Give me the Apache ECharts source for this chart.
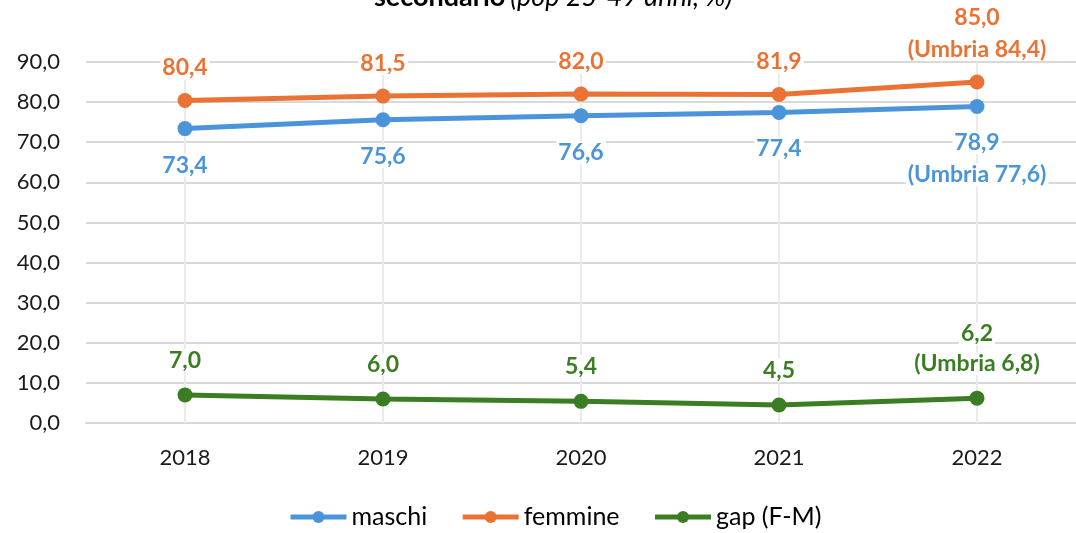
<!DOCTYPE html>
<html>
<head>
<meta charset="utf-8">
<script src="https://cdn.jsdelivr.net/npm/echarts@6/dist/echarts.min.js"></script>
<style>html,body{margin:0;padding:0;background:#fff}#c{width:1076px;height:533px}</style>
</head>
<body>
<div id="c"></div>
<script>
const years = ['2018', '2019', '2020', '2021', '2022'];
const maschi = [73.4, 75.6, 76.6, 77.4, 78.9];
const femmine = [80.4, 81.5, 82.0, 81.9, 85.0];
const gap = [7.0, 6.0, 5.4, 4.5, 6.2];
const umbriaMaschi = 77.6;
const umbriaFemmine = 84.4;
const umbriaGap = 6.8;
const yTicks = [0, 10, 20, 30, 40, 50, 60, 70, 80, 90];

const FONT = 'Lato';
const BLUE = '#4B94DA', ORANGE = '#EA7234', GREEN = '#3B7D23';
const fmt = v => v.toFixed(1).replace('.', ',');

function labelFormatter(umbria) {
  return p => p.dataIndex === years.length - 1
    ? '{t|' + fmt(p.value) + '}\n{t|(Umbria ' + fmt(umbria) + ')}'
    : '{t|' + fmt(p.value) + '}';
}

function lineSeries(name, data, color, pos, dist, lh, umbria) {
  return {
    name, type: 'line', data, color,
    symbol: 'circle', symbolSize: 15,
    lineStyle: { width: 5, color },
    itemStyle: { color },
    z: 3,
    label: {
      show: true, position: pos, distance: dist,
      formatter: labelFormatter(umbria),
      fontFamily: FONT, fontWeight: 'bold', fontSize: 23,
      lineHeight: lh, color,
      rich: {
        t: {
          fontFamily: FONT, fontWeight: 'bold', fontSize: 23, color,
          backgroundColor: '#fff', padding: [0, 2]
        }
      }
    }
  };
}

const chart = echarts.init(document.getElementById('c'), null, { renderer: 'canvas' });
chart.setOption({
  animation: false,
  backgroundColor: '#fff',
  title: {
    text: '{b|secondario} {i|(pop 25-49 anni, %)}',
    left: 374, top: -16, padding: 0,
    textStyle: {
      rich: {
        b: { fontFamily: FONT, fontWeight: 'bold', fontSize: 27, color: '#000' },
        i: { fontFamily: FONT, fontStyle: 'italic', fontWeight: 'normal', fontSize: 27, color: '#000' }
      }
    }
  },
  grid: { left: 86, width: 999, top: 62, bottom: 110, containLabel: false },
  legend: {
    data: ['maschi', 'femmine', 'gap (F-M)'],
    left: 288, top: 504, padding: 0,
    itemWidth: 56, itemHeight: 15, itemGap: 33,
    lineStyle: { width: 5 },
    textStyle: { fontFamily: FONT, fontSize: 25, lineHeight: 26, color: '#000' }
  },
  xAxis: {
    type: 'category', data: years, boundaryGap: true,
    axisLine: { show: true, lineStyle: { color: '#d9d9d9', width: 2 } },
    axisTick: { show: false },
    axisLabel: { fontFamily: FONT, fontSize: 22, color: '#1a1a1a', margin: 24 },
    splitLine: { show: false }
  },
  yAxis: {
    type: 'value', min: yTicks[0], max: yTicks[yTicks.length - 1], interval: 10,
    axisLine: { show: false }, axisTick: { show: false },
    axisLabel: { fontFamily: FONT, fontSize: 22, color: '#1a1a1a', margin: 26, formatter: v => fmt(v) },
    splitLine: { lineStyle: { color: '#d9d9d9', width: 2 } }
  },
  series: [
    {
      name: 'vgrid', type: 'line', data: [], z: 1, silent: true,
      markLine: {
        silent: true, symbol: 'none', animation: false, z: 1,
        label: { show: false },
        lineStyle: { color: '#ebebeb', width: 2, type: 'solid' },
        emphasis: { disabled: true },
        data: years.map(y => ({ xAxis: y }))
      }
    },
    lineSeries('maschi', maschi, BLUE, 'bottom', 13, 32, umbriaMaschi),
    lineSeries('femmine', femmine, ORANGE, 'top', 9, 32, umbriaFemmine),
    lineSeries('gap (F-M)', gap, GREEN, 'top', 12, 30, umbriaGap)
  ]
});
</script>
</body>
</html>
